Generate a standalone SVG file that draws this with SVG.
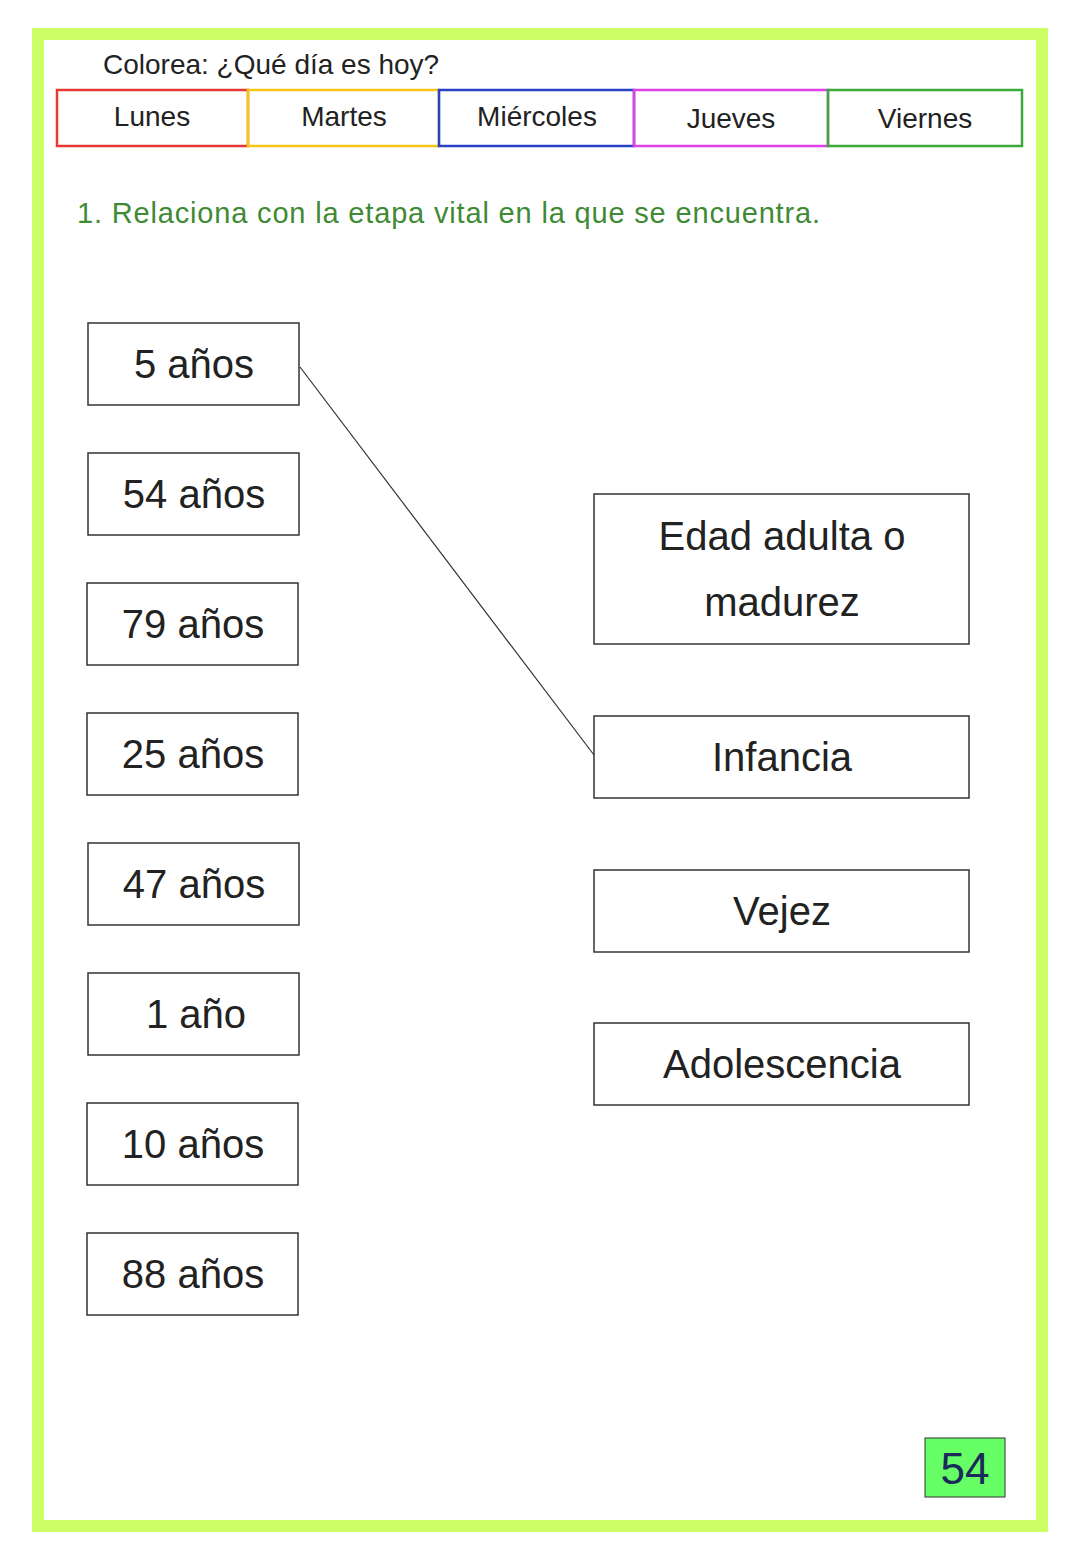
<svg xmlns="http://www.w3.org/2000/svg" width="1080" height="1560" viewBox="0 0 1080 1560">
<style>
.b{fill:#fff;stroke:#333;stroke-width:1.5}
.t{font-family:"Liberation Sans",sans-serif;fill:#222;text-anchor:middle}
.l{font-size:40px}
.d{font-size:28px}
</style>
<rect width="1080" height="1560" fill="#fff"/>
<rect x="38" y="34" width="1004" height="1492" fill="none" stroke="#ccff66" stroke-width="12"/>
<text x="103" y="74" font-family="Liberation Sans,sans-serif" font-size="28" fill="#222">Colorea: ¿Qué día es hoy?</text>
<g id="days">
<rect x="57" y="90" width="191" height="56" fill="none" stroke="#e53935" stroke-width="2.5"/>
<text class="t d" x="152" y="126">Lunes</text>
<rect x="248" y="90" width="191" height="56" fill="none" stroke="#f5c518" stroke-width="2.5"/>
<text class="t d" x="344" y="126">Martes</text>
<rect x="439" y="90" width="195" height="56" fill="none" stroke="#2741c8" stroke-width="2.5"/>
<text class="t d" x="537" y="126">Miércoles</text>
<rect x="634" y="90" width="194" height="56" fill="none" stroke="#e040e8" stroke-width="2.5"/>
<text class="t d" x="731" y="128">Jueves</text>
<rect x="828" y="90" width="194" height="56" fill="none" stroke="#3aaa3a" stroke-width="2.5"/>
<text class="t d" x="925" y="128">Viernes</text>
</g>
<text x="77" y="223" font-family="Liberation Sans,sans-serif" font-size="29" textLength="743" fill="#3f8a35">1. Relaciona con la etapa vital en la que se encuentra.</text>
<g id="connectors"><line x1="300" y1="367" x2="594" y2="755" stroke="#333" stroke-width="1.2"/></g>
<g id="a5"><rect class="b" x="88" y="323" width="211" height="82"/><text class="t l" x="194" y="378">5 años</text></g>
<g id="a54"><rect class="b" x="88" y="453" width="211" height="82"/><text class="t l" x="194" y="508">54 años</text></g>
<g id="a79"><rect class="b" x="87" y="583" width="211" height="82"/><text class="t l" x="193" y="638">79 años</text></g>
<g id="a25"><rect class="b" x="87" y="713" width="211" height="82"/><text class="t l" x="193" y="768">25 años</text></g>
<g id="a47"><rect class="b" x="88" y="843" width="211" height="82"/><text class="t l" x="194" y="898">47 años</text></g>
<g id="a1"><rect class="b" x="88" y="973" width="211" height="82"/><text class="t l" x="196" y="1028">1 año</text></g>
<g id="a10"><rect class="b" x="87" y="1103" width="211" height="82"/><text class="t l" x="193" y="1158">10 años</text></g>
<g id="a88"><rect class="b" x="87" y="1233" width="211" height="82"/><text class="t l" x="193" y="1288">88 años</text></g>
<g id="adulta"><rect class="b" x="594" y="494" width="375" height="150"/><text class="t l" x="782" y="550">Edad adulta o</text><text class="t l" x="782" y="616">madurez</text></g>
<g id="infancia"><rect class="b" x="594" y="716" width="375" height="82"/><text class="t l" x="782" y="771">Infancia</text></g>
<g id="vejez"><rect class="b" x="594" y="870" width="375" height="82"/><text class="t l" x="782" y="925">Vejez</text></g>
<g id="adolescencia"><rect class="b" x="594" y="1023" width="375" height="82"/><text class="t l" x="782" y="1078">Adolescencia</text></g>
<g id="page"><rect x="925" y="1438" width="80" height="59" fill="#66ff66" stroke="#333" stroke-width="1"/><text x="965" y="1484" font-family="Liberation Sans,sans-serif" font-size="44" fill="#1a2a5a" text-anchor="middle">54</text></g>
</svg>
